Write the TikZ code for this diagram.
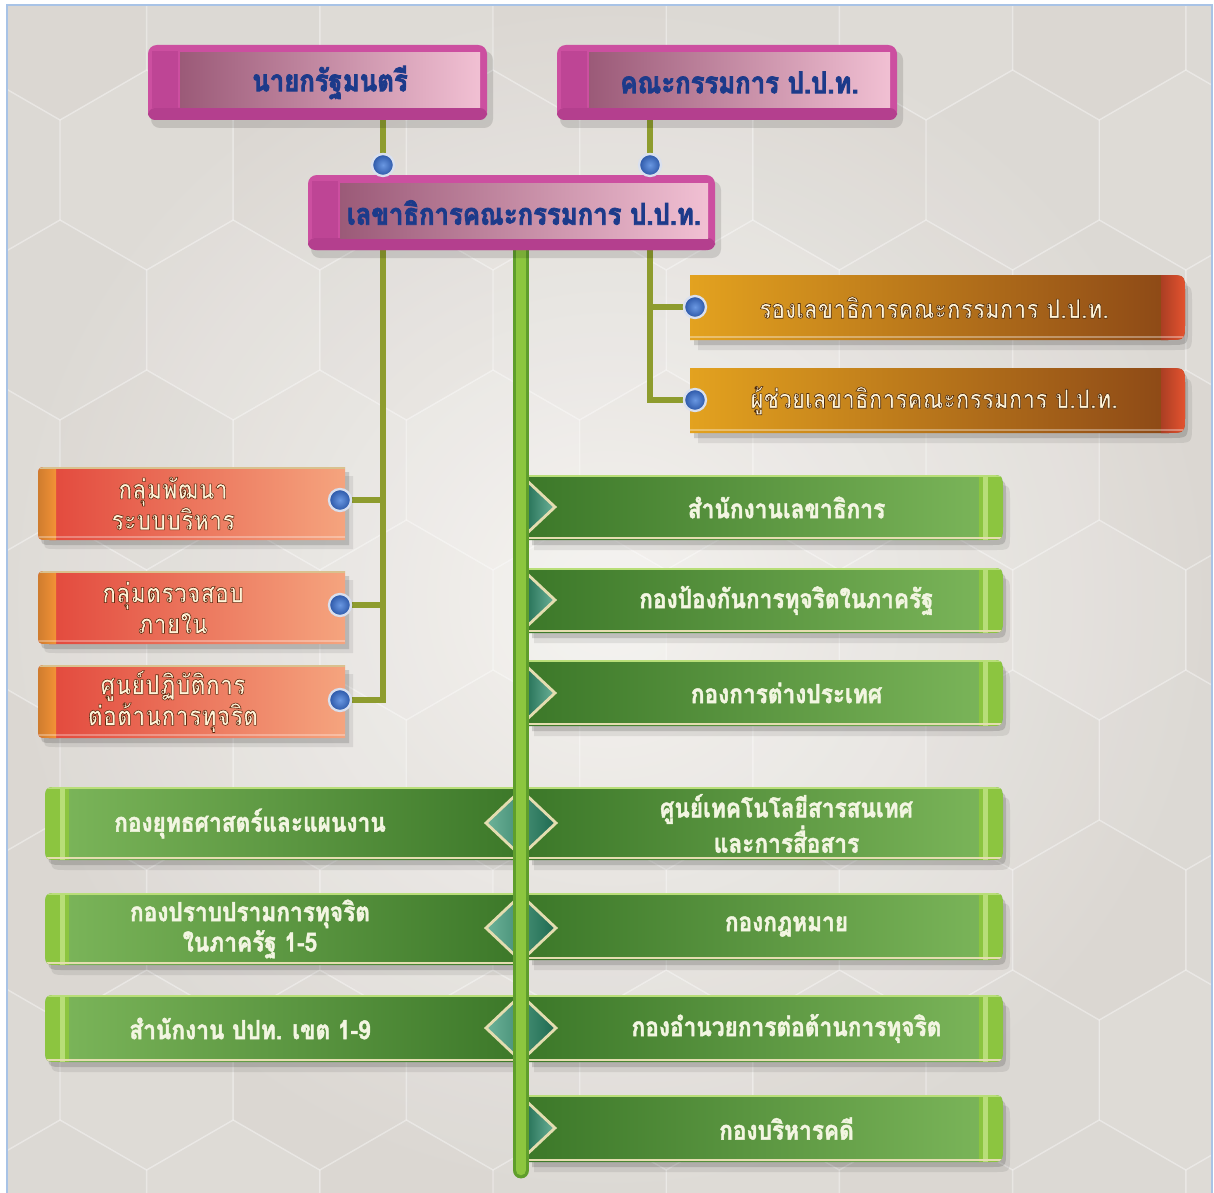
\documentclass[tikz,border=0pt]{standalone}
\usepackage{fontspec}
\newfontfamily\thai[Script=Thai, FakeStretch=0.86]{Loma}
\usetikzlibrary{calc}
\pgfdeclarelayer{back}
\pgfdeclarelayer{lines}
\pgfdeclarelayer{front}
\pgfsetlayers{back,lines,main,front}

\definecolor{bgin}{HTML}{F4F2EF}
\definecolor{bgout}{HTML}{DAD6D1}
\definecolor{framec}{HTML}{A8C3E6}
\definecolor{magc}{HTML}{CC4FA0}
\definecolor{magd}{HTML}{B43F8E}
\definecolor{mauve}{HTML}{9B5A78}
\definecolor{pinkw}{HTML}{FBE4EC}
\definecolor{pinkr}{HTML}{F1C0D3}
\definecolor{tblue}{HTML}{1D3A8A}
\definecolor{gold1}{HTML}{E3A21F}
\definecolor{gold2}{HTML}{F2D88A}
\definecolor{gold3}{HTML}{8A4616}
\definecolor{capred}{HTML}{E4532F}
\definecolor{or1}{HTML}{E2463B}
\definecolor{or2}{HTML}{F5A47E}
\definecolor{orcap}{HTML}{F39236}
\definecolor{gd}{HTML}{3C7829}
\definecolor{gl}{HTML}{7DB75B}
\definecolor{gcap}{HTML}{8CC540}
\definecolor{gcapl}{HTML}{B8DE78}
\definecolor{teald}{HTML}{1E6A50}
\definecolor{teall}{HTML}{6DB39A}
\definecolor{cream}{HTML}{E4DDB0}
\definecolor{olive}{HTML}{8E9C2E}
\definecolor{dotin}{HTML}{6A98E2}
\definecolor{dotout}{HTML}{2A55A6}
\definecolor{trunkc}{HTML}{8CC63F}
\definecolor{trunkd}{HTML}{5F9E2C}
\definecolor{gtext}{HTML}{F3F6E2}
\definecolor{otext}{HTML}{FFF4D8}

% outlined text via PDF text render mode (fill + stroke)
\newcommand\SK[2]{\special{pdf:bcontent}\special{pdf:literal direct 2 Tr #1 w #2 RG}}
\newcommand\SE{\special{pdf:econtent}}

% rounded right end / rounded left end paths (x1,y1,x2,y2,r) in pixel units
\newcommand\Rend[5]{(#1,#2) -- ({#3-#5},#2) .. controls (#3,#2) .. (#3,{#2+#5}) -- (#3,{#4-#5}) .. controls (#3,#4) .. ({#3-#5},#4) -- (#1,#4) -- cycle}
\newcommand\Lend[5]{(#3,#2) -- ({#1+#5},#2) .. controls (#1,#2) .. (#1,{#2+#5}) -- (#1,{#4-#5}) .. controls (#1,#4) .. ({#1+#5},#4) -- (#3,#4) -- cycle}

\tikzset{
 ttop/.style={font=\thai\bfseries\fontsize{17}{20}\selectfont, text=tblue, inner sep=0pt, align=center},
 tgold/.style={font=\thai\bfseries\fontsize{15}{18}\selectfont, text=otext, inner sep=0pt, align=center},
 torange/.style={font=\thai\bfseries\fontsize{15.5}{17.6}\selectfont, text=otext, inner sep=0pt, align=center},
 tgreen/.style={font=\thai\bfseries\fontsize{15}{17.2}\selectfont, text=gtext, inner sep=0pt, align=center},
 conn/.style={olive, line width=3pt},
 dot/.style={circle, minimum size=0.44cm, inner sep=0pt, inner color=dotin, outer color=dotout, draw=white!82!dotout, line width=1.3pt},
 trunk/.style={draw=trunkd, double=trunkc, double distance=6pt, line width=1.8pt, line cap=round},
 shd/.style={black, opacity=.12},
}

\newcommand\MagBox[6]{%
 \fill[shd,rounded corners=5pt] (#2+3,#3+6) rectangle (#4+6,#5+8);
 \fill[magc,rounded corners=5pt] (#2,#3) rectangle (#4,#5);
 \fill[magd,rounded corners=4pt] (#2,#5-12) rectangle (#4,#5);
 \fill[magd!60!magc] (#2+4,#3+6) rectangle (#2+30,#5-12);
 \shade[left color=mauve, middle color=pinkw, right color=pinkr] (#2+32,#3+8) rectangle (#4-7,#5-12);
 \node[ttop, minimum width={(#4-#2-39)*0.02cm}, minimum height={(#5-#3)*0.02cm}] (#1) at ({(#2+32+#4-7)/2},{(#3+#5)/2}) {\SK{0.45}{0.11 0.23 0.54}#6\SE};
}
\newcommand\GoldBox[6]{%
 \fill[black,opacity=.08] \Rend{#2+8}{#3+10}{#4+7}{#5+10}{18};
 \fill[black,opacity=.14] \Rend{#2+4}{#3+5}{#4+3}{#5+5}{18};
 \shade[left color=gold1, middle color=gold2, right color=gold3] \Rend{#2}{#3}{#4}{#5}{18};
 \begin{scope}
  \clip \Rend{#2}{#3}{#4}{#5}{18};
  \shade[left color=capred!75!black, right color=capred] (#4-24,#3) rectangle (#4,#5);
  \fill[white,opacity=.35] (#2,#5-4) rectangle (#4,#5-2);
 \end{scope}
 \node[tgold, minimum width={(#4-#2-37)*0.02cm}, minimum height={(#5-#3)*0.02cm}] (#1) at ({(#2+15+#4-22)/2},{(#3+#5)/2}) {\SK{0.32}{0.30 0.16 0.04}#6\SE};
}
\newcommand\OrBox[6]{%
 \fill[black,opacity=.08] \Lend{#2+6}{#3+9}{#4+8}{#5+9}{12};
 \fill[black,opacity=.14] \Lend{#2+3}{#3+5}{#4+4}{#5+5}{12};
 \shade[left color=or1, right color=or2] \Lend{#2}{#3}{#4}{#5}{12};
 \begin{scope}
  \clip \Lend{#2}{#3}{#4}{#5}{12};
  \shade[left color=orcap!85!black, right color=orcap] (#2,#3) rectangle (#2+18,#5);
  \draw[cream!70!brown, line width=0.8pt] (#2,#3+1) -- (#4,#3+1);
  \fill[white,opacity=.3] (#2,#5-4) rectangle (#4,#5-2);
 \end{scope}
 \node[torange, minimum width={(#4-#2-73)*0.02cm}, minimum height={(#5-#3)*0.02cm}] (#1) at ({(#2+18+#4-55)/2},{(#3+#5)/2}) {\SK{0.32}{0.38 0.16 0.06}#6\SE};
}
\newcommand\GBoxR[6]{%
 \fill[black,opacity=.08] \Rend{#2+6}{#3+10}{#4+7}{#5+10}{16};
 \fill[black,opacity=.14] \Rend{#2+4}{#3+5}{#4+3}{#5+5}{16};
 \shade[left color=gd, right color=gl] \Rend{#2}{#3}{#4}{#5}{16};
 \begin{scope}
  \clip \Rend{#2}{#3}{#4}{#5}{16};
  \fill[gcap] (#4-24,#3) rectangle (#4,#5);
  \fill[gcapl] (#4-20,#3) rectangle (#4-15,#5);
  \draw[gcapl, line width=0.6pt] (#2,#3+1) -- (#4,#3+1);
  \draw[cream, line width=0.8pt] (#2,#5-2) -- (#4,#5-2);
 \end{scope}
 \node[tgreen, minimum width={(#4-#2-42)*0.02cm}, minimum height={(#5-#3)*0.02cm}] (#1) at ({(#2+42+#4)/2},{(#3+#5)/2}) {\SK{0.25}{0.95 0.96 0.88}#6\SE};
}
\newcommand\GBoxL[6]{%
 \fill[black,opacity=.08] \Lend{#2+6}{#3+10}{#4}{#5+10}{16};
 \fill[black,opacity=.14] \Lend{#2+3}{#3+5}{#4}{#5+5}{16};
 \shade[left color=gl, right color=gd] \Lend{#2}{#3}{#4}{#5}{16};
 \begin{scope}
  \clip \Lend{#2}{#3}{#4}{#5}{16};
  \fill[gcap] (#2,#3) rectangle (#2+24,#5);
  \fill[gcapl] (#2+15,#3) rectangle (#2+20,#5);
  \draw[gcapl, line width=0.6pt] (#2,#3+1) -- (#4,#3+1);
  \draw[cream, line width=0.8pt] (#2,#5-2) -- (#4,#5-2);
 \end{scope}
 \node[tgreen, minimum width={(#4-#2-113)*0.02cm}, minimum height={(#5-#3)*0.02cm}] (#1) at ({(#2+24+#4-89)/2},{(#3+#5)/2}) {\SK{0.25}{0.95 0.96 0.88}#6\SE};
}
\newcommand\Chev[1]{%
 \shade[left color=teald, right color=teall] (523,#1-30) -- (555,#1) -- (523,#1+30) -- cycle;
 \draw[cream, line width=1.6pt] (523,#1-30) -- (555,#1) -- (523,#1+30);
}
\newcommand\Diam[1]{%
 \shade[left color=teall, right color=teald] (486,#1) -- (521,#1-33) -- (556,#1) -- (521,#1+33) -- cycle;
 \draw[cream, line width=1.6pt] (486,#1) -- (521,#1-33) -- (556,#1) -- (521,#1+33) -- cycle;
}

\begin{document}
\begin{tikzpicture}[x=0.02cm,y=-0.02cm]
\useasboundingbox (0,0) rectangle (1214,1193);

% ---------- background ----------
\begin{pgfonlayer}{back}
 \fill[white] (0,0) rectangle (1214,1193);
 \begin{scope}
  \clip (7,5) rectangle (1212,1193);
  \shade[inner color=bgin, outer color=bgout] (7,5) rectangle (1212,1193);
  \foreach \j in {0,...,8}{
   \foreach \i in {-1,...,7}{
    \pgfmathsetmacro\cx{60+173.2*\i+86.6*mod(\j,2)}
    \pgfmathsetmacro\cy{20+150*\j}
    \pgfmathsetmacro\op{0.03+0.05*mod(\i+2*\j+3,3)}
    \path[fill=white, fill opacity=\op, draw=white, draw opacity=0.22, line width=0.8pt]
      (\cx,\cy-100) -- (\cx+86.6,\cy-50) -- (\cx+86.6,\cy+50) -- (\cx,\cy+100) -- (\cx-86.6,\cy+50) -- (\cx-86.6,\cy-50) -- cycle;
   }}
 \end{scope}
 \draw[framec, line width=1pt] (7,1193) -- (7,5) -- (1212,5) -- (1212,1193);
\end{pgfonlayer}

% ---------- secretary box and its top dots (front) ----------
\begin{pgfonlayer}{front}
 \MagBox{sec}{308}{175}{715}{250}{เลขาธิการคณะกรรมการ ป.ป.ท.}
 \node[dot] (d1) at (383,165) {};
 \node[dot] (d2) at (650,165) {};
\end{pgfonlayer}

% ---------- top boxes ----------
\MagBox{pm}{148}{45}{487}{120}{นายกรัฐมนตรี}
\MagBox{ppt}{557}{45}{897}{120}{คณะกรรมการ ป.ป.ท.}

% ---------- deputies ----------
\GoldBox{dep1}{690}{275}{1185}{340}{รองเลขาธิการคณะกรรมการ ป.ป.ท.}
\GoldBox{dep2}{690}{368}{1185}{433}{ผู้ช่วยเลขาธิการคณะกรรมการ ป.ป.ท.}

% ---------- left orange groups ----------
\OrBox{o1}{38}{467}{345}{540}{กลุ่มพัฒนา\\ระบบบริหาร}
\OrBox{o2}{38}{571}{345}{644}{กลุ่มตรวจสอบ\\ภายใน}
\OrBox{o3}{38}{665}{345}{738}{ศูนย์ปฏิบัติการ\\ต่อต้านการทุจริต}

% ---------- green bureaus ----------
\GBoxR{r1}{528}{475}{1003}{540}{สำนักงานเลขาธิการ}
\GBoxR{r2}{528}{568}{1003}{633}{กองป้องกันการทุจริตในภาครัฐ}
\GBoxR{r3}{528}{660}{1003}{726}{กองการต่างประเทศ}
\GBoxR{r4}{528}{787}{1003}{860}{ศูนย์เทคโนโลยีสารสนเทศ\\และการสื่อสาร}
\GBoxR{r5}{528}{893}{1003}{960}{กองกฎหมาย}
\GBoxR{r6}{528}{995}{1003}{1062}{กองอำนวยการต่อต้านการทุจริต}
\GBoxR{r7}{528}{1095}{1003}{1162}{กองบริหารคดี}
\GBoxL{l1}{45}{787}{520}{860}{กองยุทธศาสตร์และแผนงาน}
\GBoxL{l2}{45}{893}{520}{965}{กองปราบปรามการทุจริต\\ในภาครัฐ 1-5}
\GBoxL{l3}{45}{995}{520}{1062}{สำนักงาน ปปท. เขต 1-9}

\Chev{507}\Chev{600}\Chev{693}\Chev{1128}
\Diam{823}\Diam{928}\Diam{1028}

% ---------- trunk ----------
\coordinate (tend) at (521,1170);
\draw[trunk] (sec.south -| tend) -- (tend);

% ---------- dots ----------
\node[dot] (e1) at (695,307) {};
\node[dot] (e2) at (695,400) {};
\node[dot] (q1) at (340,500) {};
\node[dot] (q2) at (340,605) {};
\node[dot] (q3) at (340,700) {};

% ---------- connectors ----------
\begin{pgfonlayer}{lines}
 \draw[conn] (pm.south -| d1) -- (d1);
 \draw[conn] (ppt.south -| d2) -- (d2);
 \draw[conn] (sec.south -| d1) |- (q3);
 \draw[conn] (q1) -- (q1 -| d1);
 \draw[conn] (q2) -- (q2 -| d1);
 \draw[conn] (sec.south -| d2) |- (e2);
 \draw[conn] (e1) -- (e1 -| d2);
\end{pgfonlayer}
\end{tikzpicture}
\end{document}
